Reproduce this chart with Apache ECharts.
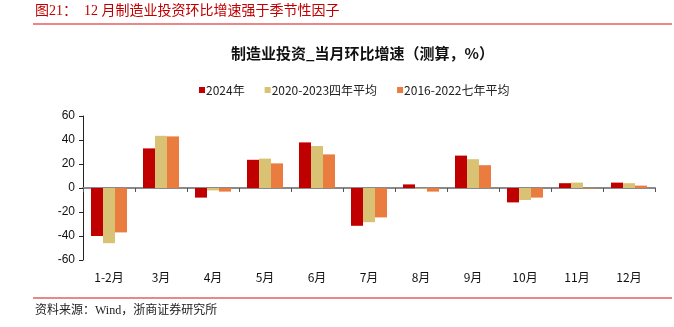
<!DOCTYPE html>
<html><head><meta charset="utf-8">
<script src="https://cdn.jsdelivr.net/npm/echarts@6/dist/echarts.min.js"></script>
<style>html,body{margin:0;padding:0;background:#fff}#c{width:674px;height:327px}</style>
</head><body><div id="c"></div>
<script>
const categories = ['1-2月','3月','4月','5月','6月','7月','8月','9月','10月','11月','12月'];
const yTicks = [-60,-40,-20,0,20,40,60];
const s2024 = [-40, 33, -8, 23.5, 38, -31.5, 3, 27, -12, 4, 4.5];
const sAvg4 = [-46, 43.5, -2, 24.5, 35, -28.5, -0.5, 24, -10, 4.5, 4];
const sAvg7 = [-37, 43, -3, 20.5, 28, -24.5, -3, 19, -8, -0.5, 2];
const seriesNames = ['2024年','2020-2023四年平均','2016-2022七年平均'];
const colors = ['#C00000','#DAC274','#E97C3E'];
const sans = '"Noto Sans CJK SC", sans-serif';
const serif = '"Liberation Serif", "Noto Sans CJK SC", serif';

const chart = echarts.init(document.getElementById('c'), null, {renderer:'canvas'});
const mk = (name, data, i) => ({
  name, type:'bar', data, xAxisIndex:0, yAxisIndex:0,
  barWidth:12, barGap:'0%',
  itemStyle:{color:colors[i]}
});
chart.setOption({
  animation:false,
  color:colors,
  title:{text:'制造业投资_当月环比增速（测算，%）', left:226, top:41,
    textStyle:{fontFamily:sans, fontSize:15, fontWeight:'bold', color:'#111'}},
  legend:{data:seriesNames, left:194, top:79, itemWidth:6, itemHeight:6, itemGap:20,
    icon:'rect', textStyle:{fontFamily:sans, fontSize:12, color:'#222', padding:[0,0,0,-4]}},
  grid:{left:83, right:19, top:116, bottom:67},
  xAxis:[
    {type:'category', data:categories, boundaryGap:true,
      axisLine:{onZero:true, lineStyle:{color:'#8a8a8a', width:2}},
      axisTick:{show:true, inside:false, length:4, alignWithLabel:false, lineStyle:{color:'#555', width:1}},
      axisLabel:{show:false}},
    {type:'category', data:categories, position:'bottom', boundaryGap:true,
      axisLine:{show:false}, axisTick:{show:false},
      axisLabel:{fontFamily:sans, fontSize:12, color:'#111', margin:11}}
  ],
  yAxis:{type:'value', min:yTicks[0], max:yTicks[yTicks.length-1], interval:20,
    axisLine:{show:true, lineStyle:{color:'#222', width:1}},
    axisTick:{show:true, length:4, lineStyle:{color:'#222'}},
    splitLine:{show:false},
    axisLabel:{fontFamily:'"Liberation Sans", Arial, sans-serif', fontSize:12, color:'#111', margin:8}},
  graphic:[
    {type:'text', left:35, top:4, style:{text:'图21：  12 月制造业投资环比增速强于季节性因子', fill:'#C00000', font:'14px '+serif}},
    {type:'line', shape:{x1:33, y1:24, x2:672, y2:24}, style:{stroke:'#E06060', lineWidth:1.5}},
    {type:'line', shape:{x1:33, y1:298, x2:672, y2:298}, style:{stroke:'#E06060', lineWidth:1.5}},
    {type:'text', left:35, top:305, style:{text:'资料来源：Wind，浙商证券研究所', fill:'#222', font:'12px '+serif}}
  ],
  series:[mk(seriesNames[0], s2024, 0), mk(seriesNames[1], sAvg4, 1), mk(seriesNames[2], sAvg7, 2)]
});
</script></body></html>
